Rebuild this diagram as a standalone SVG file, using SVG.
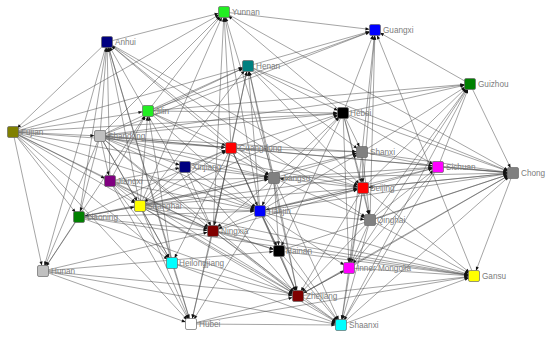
<svg xmlns="http://www.w3.org/2000/svg" width="550" height="338" viewBox="0 0 550 338">
<style>
#edges path{fill:none;stroke:#4a4a4a;stroke-width:0.5;marker-end:url(#a)}
.n rect{stroke:#6a6a6a;stroke-width:0.7}
.n text{font-family:"Liberation Sans",Arial,sans-serif;font-size:8.2px;fill:#7c7c7c}
</style>
<defs>
<marker id="a" viewBox="0 0 10 8" refX="24" refY="4" markerWidth="4" markerHeight="3.2" orient="auto" markerUnits="userSpaceOnUse" overflow="visible"><path d="M0 0L10 4L0 8z" fill="#111"/></marker>
</defs>
<rect width="550" height="338" fill="#fff"/>
<g id="edges">
<path d="M100 136L107 42"/><path d="M110 181L107 42"/><path d="M140 206L107 42"/><path d="M79 217L107 42"/><path d="M274 178L107 42"/><path d="M231 148L107 42"/><path d="M213 231L107 42"/><path d="M172 263L107 42"/><path d="M191 324L107 42"/><path d="M107 42L13 132"/><path d="M107 42L43 271"/><path d="M107 42L224 12"/><path d="M107 42L363 188"/><path d="M107 42L370 220"/>
<path d="M13 132L224 12"/><path d="M100 136L224 12"/><path d="M140 206L224 12"/><path d="M213 231L224 12"/><path d="M260 211L224 12"/><path d="M274 178L224 12"/><path d="M231 148L224 12"/><path d="M343 113L224 12"/><path d="M224 12L375 30"/><path d="M224 12L513 173"/><path d="M148 111L224 12"/>
<path d="M248 66L375 30"/><path d="M470 84L375 30"/><path d="M343 113L375 30"/><path d="M362 152L375 30"/><path d="M363 188L375 30"/><path d="M370 220L375 30"/><path d="M100 136L375 30"/><path d="M148 111L375 30"/><path d="M474 276L375 30"/>
<path d="M13 132L248 66"/><path d="M100 136L248 66"/><path d="M148 111L248 66"/><path d="M140 206L248 66"/><path d="M231 148L248 66"/><path d="M260 211L248 66"/><path d="M213 231L248 66"/><path d="M298 296L248 66"/><path d="M274 178L248 66"/><path d="M248 66L343 113"/><path d="M248 66L363 188"/><path d="M248 66L513 173"/><path d="M248 66L362 152"/>
<path d="M343 113L470 84"/><path d="M362 152L470 84"/><path d="M363 188L470 84"/><path d="M438 167L470 84"/><path d="M370 220L470 84"/><path d="M349 268L470 84"/><path d="M341 325L470 84"/><path d="M470 84L513 173"/><path d="M148 111L470 84"/><path d="M100 136L470 84"/>
<path d="M148 111L343 113"/><path d="M13 132L148 111"/><path d="M148 111L231 148"/><path d="M148 111L274 178"/><path d="M148 111L260 211"/><path d="M110 181L148 111"/><path d="M140 206L148 111"/><path d="M172 263L148 111"/><path d="M43 271L148 111"/>
<path d="M13 132L343 113"/><path d="M100 136L343 113"/><path d="M231 148L343 113"/><path d="M274 178L343 113"/><path d="M260 211L343 113"/><path d="M140 206L343 113"/><path d="M343 113L363 188"/><path d="M343 113L362 152"/><path d="M343 113L438 167"/><path d="M343 113L513 173"/><path d="M343 113L370 220"/><path d="M343 113L349 268"/><path d="M343 113L279 251"/>
<path d="M13 132L100 136"/><path d="M13 132L231 148"/><path d="M13 132L274 178"/><path d="M13 132L43 271"/><path d="M13 132L110 181"/><path d="M13 132L140 206"/><path d="M13 132L260 211"/><path d="M13 132L191 324"/><path d="M13 132L213 231"/><path d="M13 132L79 217"/><path d="M13 132L172 263"/>
<path d="M100 136L231 148"/><path d="M100 136L274 178"/><path d="M100 136L362 152"/><path d="M100 136L363 188"/><path d="M100 136L513 173"/><path d="M100 136L185 167"/><path d="M100 136L110 181"/><path d="M100 136L140 206"/><path d="M100 136L260 211"/><path d="M100 136L213 231"/><path d="M100 136L298 296"/><path d="M100 136L79 217"/><path d="M100 136L43 271"/><path d="M100 136L172 263"/>
<path d="M231 148L362 152"/><path d="M231 148L513 173"/><path d="M231 148L363 188"/><path d="M231 148L274 178"/><path d="M231 148L260 211"/><path d="M185 167L231 148"/><path d="M231 148L213 231"/><path d="M231 148L279 251"/><path d="M231 148L298 296"/><path d="M140 206L231 148"/><path d="M231 148L191 324"/><path d="M79 217L231 148"/><path d="M231 148L172 263"/>
<path d="M362 152L438 167"/><path d="M362 152L513 173"/><path d="M362 152L363 188"/><path d="M362 152L370 220"/><path d="M274 178L362 152"/><path d="M260 211L362 152"/><path d="M362 152L349 268"/><path d="M140 206L362 152"/>
<path d="M438 167L513 173"/><path d="M363 188L438 167"/><path d="M274 178L438 167"/><path d="M260 211L438 167"/><path d="M370 220L438 167"/><path d="M438 167L341 325"/><path d="M438 167L349 268"/><path d="M140 206L438 167"/>
<path d="M363 188L513 173"/><path d="M513 173L363 188"/><path d="M363 188L260 211"/><path d="M363 188L274 178"/><path d="M363 188L370 220"/><path d="M363 188L349 268"/><path d="M363 188L341 325"/><path d="M363 188L298 296"/><path d="M363 188L474 276"/><path d="M140 206L363 188"/><path d="M213 231L363 188"/>
<path d="M185 167L274 178"/><path d="M185 167L260 211"/><path d="M185 167L140 206"/><path d="M185 167L213 231"/><path d="M185 167L298 296"/><path d="M110 181L185 167"/>
<path d="M274 178L260 211"/><path d="M274 178L513 173"/><path d="M274 178L370 220"/><path d="M274 178L213 231"/><path d="M274 178L279 251"/><path d="M274 178L298 296"/><path d="M274 178L341 325"/><path d="M140 206L274 178"/><path d="M79 217L274 178"/><path d="M110 181L274 178"/>
<path d="M110 181L140 206"/><path d="M110 181L260 211"/><path d="M110 181L213 231"/><path d="M110 181L298 296"/><path d="M110 181L172 263"/><path d="M110 181L191 324"/>
<path d="M370 220L349 268"/><path d="M370 220L341 325"/><path d="M370 220L474 276"/><path d="M370 220L513 173"/><path d="M370 220L298 296"/><path d="M260 211L370 220"/>
<path d="M140 206L260 211"/><path d="M140 206L213 231"/><path d="M140 206L172 263"/><path d="M140 206L191 324"/><path d="M140 206L298 296"/><path d="M140 206L279 251"/><path d="M140 206L341 325"/><path d="M140 206L474 276"/><path d="M140 206L79 217"/>
<path d="M260 211L213 231"/><path d="M260 211L279 251"/><path d="M260 211L298 296"/><path d="M260 211L341 325"/><path d="M260 211L349 268"/><path d="M260 211L474 276"/><path d="M260 211L513 173"/><path d="M260 211L363 188"/><path d="M79 217L260 211"/><path d="M260 211L191 324"/>
<path d="M79 217L140 206"/><path d="M79 217L43 271"/><path d="M79 217L213 231"/><path d="M79 217L298 296"/><path d="M79 217L474 276"/>
<path d="M213 231L191 324"/><path d="M213 231L298 296"/><path d="M213 231L279 251"/><path d="M213 231L341 325"/><path d="M43 271L213 231"/><path d="M213 231L474 276"/>
<path d="M172 263L298 296"/><path d="M172 263L341 325"/><path d="M172 263L191 324"/>
<path d="M279 251L298 296"/><path d="M279 251L341 325"/><path d="M279 251L474 276"/><path d="M279 251L513 173"/>
<path d="M349 268L341 325"/><path d="M349 268L474 276"/><path d="M349 268L298 296"/><path d="M349 268L513 173"/>
<path d="M43 271L298 296"/><path d="M43 271L341 325"/><path d="M43 271L191 324"/><path d="M43 271L279 251"/>
<path d="M298 296L341 325"/><path d="M191 324L298 296"/><path d="M298 296L474 276"/><path d="M298 296L349 268"/><path d="M298 296L513 173"/>
<path d="M191 324L341 325"/><path d="M191 324L474 276"/><path d="M341 325L474 276"/><path d="M341 325L513 173"/><path d="M513 173L474 276"/>
</g>
<g id="Yunnan" class="n"><rect x="218.5" y="6.5" width="11" height="11" rx="1.5" fill="#22ee22"/><text x="232" y="15">Yunnan</text></g>
<g id="Guangxi" class="n"><rect x="369.5" y="24.5" width="11" height="11" rx="1.5" fill="#0000ff"/><text x="383" y="33">Guangxi</text></g>
<g id="Anhui" class="n"><rect x="101.5" y="36.5" width="11" height="11" rx="1.5" fill="#000080"/><text x="115" y="45">Anhui</text></g>
<g id="Henan" class="n"><rect x="242.5" y="60.5" width="11" height="11" rx="1.5" fill="#008080"/><text x="256" y="69">Henan</text></g>
<g id="Guizhou" class="n"><rect x="464.5" y="78.5" width="11" height="11" rx="1.5" fill="#008000"/><text x="478" y="87">Guizhou</text></g>
<g id="Jilin" class="n"><rect x="142.5" y="105.5" width="11" height="11" rx="1.5" fill="#22ee22"/><text x="155" y="114">Jilin</text></g>
<g id="Hebei" class="n"><rect x="337.5" y="107.5" width="11" height="11" rx="1.5" fill="#000000"/><text x="350" y="116">Hebei</text></g>
<g id="Fujian" class="n"><rect x="7.5" y="126.5" width="11" height="11" rx="1.5" fill="#808000"/><text x="21" y="135">Fujian</text></g>
<g id="Shandong" class="n"><rect x="94.5" y="130.5" width="11" height="11" rx="1.5" fill="#c0c0c0"/><text x="108" y="139">Shandong</text></g>
<g id="Guangdong" class="n"><rect x="225.5" y="142.5" width="11" height="11" rx="1.5" fill="#ff0000"/><text x="239" y="151">Guangdong</text></g>
<g id="Shanxi" class="n"><rect x="356.5" y="146.5" width="11" height="11" rx="1.5" fill="#808080"/><text x="370" y="155">Shanxi</text></g>
<g id="Sichuan" class="n"><rect x="432.5" y="161.5" width="11" height="11" rx="1.5" fill="#ff00ff"/><text x="446" y="170">Sichuan</text></g>
<g id="Chongqing" class="n"><rect x="507.5" y="167.5" width="11" height="11" rx="1.5" fill="#808080"/><text x="521" y="176">Chong</text></g>
<g id="Beijing" class="n"><rect x="357.5" y="182.5" width="11" height="11" rx="1.5" fill="#ff0000"/><text x="370" y="191">Beijing</text></g>
<g id="Xinjiang" class="n"><rect x="179.5" y="161.5" width="11" height="11" rx="1.5" fill="#000080"/><text x="192" y="170">Xinjiang</text></g>
<g id="Jiangsu" class="n"><rect x="268.5" y="172.5" width="11" height="11" rx="1.5" fill="#808080"/><text x="282" y="181">Jiangsu</text></g>
<g id="Jiangxi" class="n"><rect x="104.5" y="175.5" width="11" height="11" rx="1.5" fill="#800080"/><text x="117" y="184">Jiangxi</text></g>
<g id="Qinghai" class="n"><rect x="364.5" y="214.5" width="11" height="11" rx="1.5" fill="#808080"/><text x="377" y="223">Qinghai</text></g>
<g id="Shanghai" class="n"><rect x="134.5" y="200.5" width="11" height="11" rx="1.5" fill="#ffff00"/><text x="147" y="209">Shanghai</text></g>
<g id="Tianjin" class="n"><rect x="254.5" y="205.5" width="11" height="11" rx="1.5" fill="#0000ff"/><text x="267" y="214">Tianjin</text></g>
<g id="Liaoning" class="n"><rect x="73.5" y="211.5" width="11" height="11" rx="1.5" fill="#008000"/><text x="87" y="220">Liaoning</text></g>
<g id="Ningxia" class="n"><rect x="207.5" y="225.5" width="11" height="11" rx="1.5" fill="#800000"/><text x="221" y="234">Ningxia</text></g>
<g id="Heilongjiang" class="n"><rect x="166.5" y="257.5" width="11" height="11" rx="1.5" fill="#00ffff"/><text x="179" y="266">Heilongjiang</text></g>
<g id="Hainan" class="n"><rect x="273.5" y="245.5" width="11" height="11" rx="1.5" fill="#000000"/><text x="286" y="254">Hainan</text></g>
<g id="InnerMongolia" class="n"><rect x="343.5" y="262.5" width="11" height="11" rx="1.5" fill="#ff00ff"/><text x="357" y="271">Inner Mongolia</text></g>
<g id="Gansu" class="n"><rect x="468.5" y="270.5" width="11" height="11" rx="1.5" fill="#ffff00"/><text x="482" y="279">Gansu</text></g>
<g id="Hunan" class="n"><rect x="37.5" y="265.5" width="11" height="11" rx="1.5" fill="#c0c0c0"/><text x="51" y="274">Hunan</text></g>
<g id="Zhejiang" class="n"><rect x="292.5" y="290.5" width="11" height="11" rx="1.5" fill="#800000"/><text x="306" y="299">Zhejiang</text></g>
<g id="Hubei" class="n"><rect x="185.5" y="318.5" width="11" height="11" rx="1.5" fill="#ffffff"/><text x="199" y="327">Hubei</text></g>
<g id="Shaanxi" class="n"><rect x="335.5" y="319.5" width="11" height="11" rx="1.5" fill="#00ffff"/><text x="349" y="328">Shaanxi</text></g>
</svg>
